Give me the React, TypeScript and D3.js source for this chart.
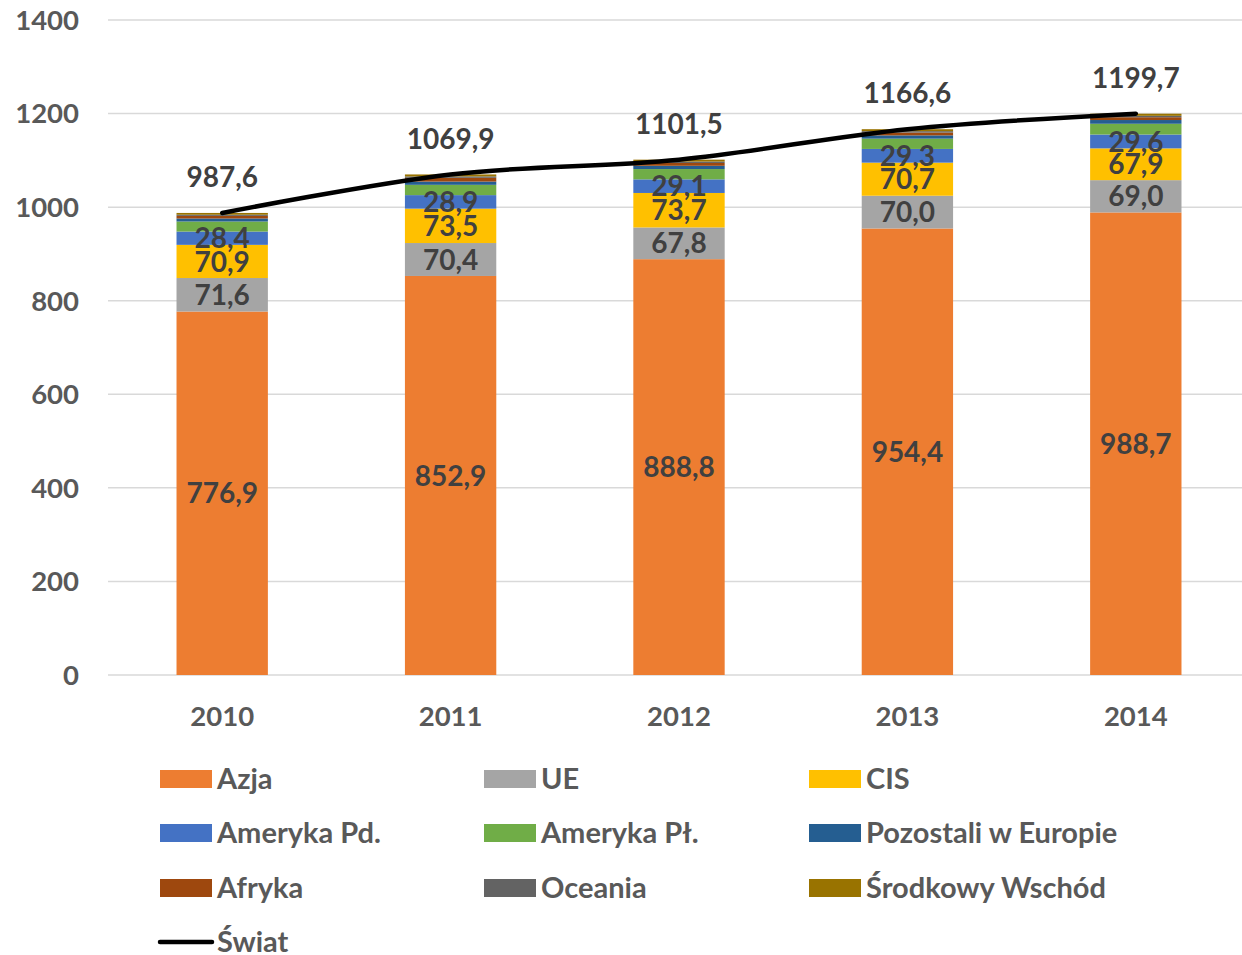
import React from "react";
import * as d3 from "d3";

const years = ["2010", "2011", "2012", "2013", "2014"];
const seriesNames = ["Azja", "UE", "CIS", "Ameryka Pd.", "Ameryka Pł.", "Pozostali w Europie", "Afryka", "Oceania", "Środkowy Wschód"];
const seriesColors = ["#ED7D31", "#A5A5A5", "#FFC000", "#4472C4", "#70AD47", "#255E91", "#9E480E", "#636363", "#997300"];
const azja = [776.9, 852.9, 888.8, 954.4, 988.7];
const ue = [71.6, 70.4, 67.8, 70.0, 69.0];
const cis = [70.9, 73.5, 73.7, 70.7, 67.9];
const amerykaPd = [28.4, 28.9, 29.1, 29.3, 29.6];
const amerykaPl = [21.5, 22.0, 22.0, 22.0, 23.0];
const pozostali = [6.5, 7.0, 7.0, 7.0, 8.0];
const afryka = [5.5, 8.0, 6.0, 6.0, 6.0];
const oceania = [2.5, 3.0, 3.0, 3.0, 3.0];
const srodkowyWschod = [3.8, 4.2, 4.1, 4.2, 4.5];
const swiat = [987.6, 1069.9, 1101.5, 1166.6, 1199.7];
const yTicks = [0, 200, 400, 600, 800, 1000, 1200, 1400];
const labeledSeries = [0, 1, 2, 3];

const allSeries = [azja, ue, cis, amerykaPd, amerykaPl, pozostali, afryka, oceania, srodkowyWschod];

const fmt = (v: number) => v.toFixed(1).replace(".", ",");

export default function App() {
  const W = 1242, H = 955;
  const x = d3.scaleBand<string>().domain(years).range([108, 1250]).paddingInner(0.6).paddingOuter(0.3);
  const y = d3.scaleLinear().domain([0, 1400]).range([675, 20]);
  const font = "Lato, 'Open Sans', sans-serif";
  const txt = "#404040";
  const axisTxt = "#595959";

  const rows = years.map((yr, i) => {
    const r: any = { year: yr };
    seriesNames.forEach((s, k) => (r[s] = allSeries[k][i]));
    return r;
  });
  const stack = d3.stack<any>().keys(seriesNames)(rows);

  const line = d3
    .line<number>()
    .x((_, i) => (x(years[i]) as number) + x.bandwidth() / 2)
    .y((d) => y(d))
    .curve(d3.curveCatmullRom.alpha(0.5));

  const legendItems = seriesNames.map((n, i) => ({ name: n, color: seriesColors[i] }));
  const colX = [160, 484, 809];
  const rowY = [779, 833, 888, 942];

  return (
    <svg width={W} height={H} style={{ position: "absolute", left: 0, top: 0, background: "#fff" }} fontFamily={font}>
      {yTicks.map((t) => (
        <g key={t}>
          <line x1={108} x2={1242} y1={y(t)} y2={y(t)} stroke="#D9D9D9" strokeWidth={1.5} />
          <text x={79} y={y(t)} dy="0.36em" textAnchor="end" fontSize={27.5} fontWeight={700} fill={axisTxt}>
            {t}
          </text>
        </g>
      ))}
      {stack.map((layer, k) => (
        <g key={k} fill={seriesColors[k]}>
          {layer.map((d, i) => (
            <rect key={i} x={x(years[i])} width={x.bandwidth()} y={y(d[1])} height={y(d[0]) - y(d[1])} />
          ))}
        </g>
      ))}
      {labeledSeries.map((k) =>
        stack[k].map((d, i) => (
          <text
            key={`${k}-${i}`}
            x={(x(years[i]) as number) + x.bandwidth() / 2}
            y={(y(d[0]) + y(d[1])) / 2}
            dy="0.36em"
            textAnchor="middle"
            fontSize={28}
            fontWeight={700}
            fill={txt}
          >
            {fmt(allSeries[k][i])}
          </text>
        ))
      )}
      <path d={line(swiat) || ""} fill="none" stroke="#000" strokeWidth={4.5} strokeLinecap="round" />
      {swiat.map((v, i) => (
        <text
          key={i}
          x={(x(years[i]) as number) + x.bandwidth() / 2}
          y={y(v) - 36}
          dy="0.36em"
          textAnchor="middle"
          fontSize={28}
          fontWeight={700}
          fill={txt}
        >
          {fmt(v)}
        </text>
      ))}
      {years.map((yr) => (
        <text key={yr} x={(x(yr) as number) + x.bandwidth() / 2} y={716} dy="0.36em" textAnchor="middle" fontSize={27.5} fontWeight={700} fill={axisTxt}>
          {yr}
        </text>
      ))}
      {legendItems.map((it, i) => {
        const cx = colX[i % 3];
        const cy = rowY[Math.floor(i / 3)];
        return (
          <g key={it.name}>
            <rect x={cx} y={cy - 9} width={52} height={18} fill={it.color} />
            <text x={cx + 57} y={cy} dy="0.36em" fontSize={29} fontWeight={700} fill={axisTxt}>
              {it.name}
            </text>
          </g>
        );
      })}
      <line x1={160} x2={212} y1={rowY[3]} y2={rowY[3]} stroke="#000" strokeWidth={4.5} strokeLinecap="round" />
      <text x={217} y={rowY[3]} dy="0.36em" fontSize={29} fontWeight={700} fill={axisTxt}>
        Świat
      </text>
    </svg>
  );
}
